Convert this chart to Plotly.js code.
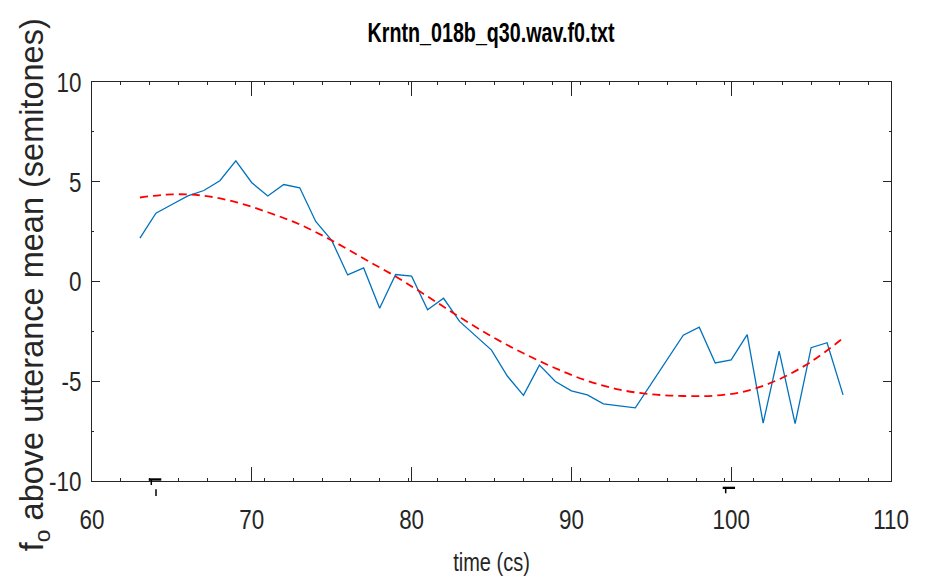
<!DOCTYPE html>
<html>
<head>
<meta charset="utf-8">
<script src="https://cdn.plot.ly/plotly-3.0.1.min.js"></script>
<style>html,body{margin:0;padding:0;background:#fff;}#chart{width:930px;height:580px;}</style>
</head>
<body>
<div id="chart"></div>
<script>
// measured f0 contour (time in cs, semitones above utterance mean)
const f0Time = [63,64,65,66,67,68,69,70,71,72,73,74,75,76,77,78,79,80,81,82,83,84,85,86,87,88,89,90,91,92,93,94,97,98,99,100,101,102,103,104,105,106,107];
const f0Value = [2.17,3.42,3.86,4.29,4.56,5.05,6.05,4.95,4.29,4.86,4.70,3.01,2.06,0.33,0.68,-1.34,0.35,0.27,-1.42,-0.84,-2.00,-2.71,-3.44,-4.75,-5.71,-4.19,-5.01,-5.48,-5.68,-6.13,-6.23,-6.33,-2.69,-2.29,-4.08,-3.93,-2.66,-7.10,-3.49,-7.12,-3.32,-3.07,-5.68];
// smooth fitted curve
const fitTime = [63,65,67,69,71,73,75,77,79,81,83,85,87,89,91,93,95,97,99,101,103,105,107];
const fitValue = [4.21,4.37,4.30,3.98,3.47,2.86,2.06,1.15,0.25,-0.75,-1.78,-2.75,-3.60,-4.35,-4.98,-5.42,-5.65,-5.74,-5.72,-5.48,-4.90,-4.02,-2.84];

const xTicks = [60,70,80,90,100,110];
const yTicks = [-10,-5,0,5,10];
const titleText = 'Krntn_018b_q30.wav.f0.txt';
const xTitle = 'time (cs)';
const yTitle = 'f<sub>o</sub> above utterance mean (semitones)';

const axisColor = '#262626';
const sans = '"Liberation Sans", Arial, Helvetica, sans-serif';

const traces = [
  {x: f0Time, y: f0Value, type: 'scatter', mode: 'lines', line: {color: '#0072BD', width: 1.3}, hoverinfo: 'skip'},
  {x: fitTime, y: fitValue, type: 'scatter', mode: 'lines', line: {color: '#FF0000', width: 1.8, dash: '8px,5px', shape: 'spline'}, hoverinfo: 'skip'}
];

function rectPaper(x0, x1, y0, y1) {
  return {type: 'rect', xref: 'paper', yref: 'paper', x0: x0, x1: x1, y0: y0, y1: y1, fillcolor: '#000', line: {width: 0}};
}
function vlinePaper(x, y0, y1) {
  return {type: 'line', xref: 'paper', yref: 'paper', x0: x, x1: x, y0: y0, y1: y1, line: {color: '#000', width: 1.5}};
}

const layout = {
  width: 930, height: 580,
  margin: {l: 92, r: 39, t: 82, b: 99},
  paper_bgcolor: '#fff', plot_bgcolor: '#fff',
  showlegend: false,
  title: {text: titleText, font: {family: sans, size: 28, color: '#000', weight: 'bold'}, x: 0.528, xanchor: 'center', y: 0.945, yanchor: 'middle', xref: 'container', yref: 'container'},
  xaxis: {
    range: [60, 110], tickvals: xTicks, ticktext: xTicks.map(String),
    showgrid: false, zeroline: false, showline: true, linecolor: axisColor, linewidth: 1,
    mirror: 'ticks', ticks: 'inside', ticklen: 14, tickwidth: 1, tickcolor: axisColor,
    minor: {tick0: 60, dtick: 1.8, ticks: 'inside', ticklen: 3, tickwidth: 1, tickcolor: axisColor, showgrid: false},
    tickfont: {family: sans, size: 28, color: '#262626'},
    ticklabelstandoff: 13,
    title: {text: xTitle, font: {family: sans, size: 25, color: '#262626'}, standoff: 19},
    automargin: false, fixedrange: true
  },
  yaxis: {
    range: [-10, 10], tickvals: yTicks, ticktext: yTicks.map(String),
    showgrid: false, zeroline: false, showline: true, linecolor: axisColor, linewidth: 1,
    mirror: 'ticks', ticks: 'inside', ticklen: 8, tickwidth: 1, tickcolor: axisColor,
    minor: {dtick: 2.5, ticks: 'inside', ticklen: 2, tickwidth: 1, tickcolor: axisColor, showgrid: false},
    tickfont: {family: sans, size: 28, color: '#262626'},
    ticklabelstandoff: 4,
    automargin: false, fixedrange: true
  },
  annotations: [
    {text: yTitle, xref: 'paper', yref: 'paper', x: -0.0725, y: 0.491, xanchor: 'center', yanchor: 'middle',
     textangle: -90, showarrow: false, font: {family: sans, size: 32.5, color: '#262626'}}
  ],
  shapes: [
    rectPaper(0.0710, 0.0867, 0.0008, 0.0068),
    vlinePaper(0.0742, 0.005, -0.010),
    vlinePaper(0.0801, -0.0208, -0.0376),
    rectPaper(0.7894, 0.8048, -0.0143, -0.0200),
    vlinePaper(0.7931, -0.020, -0.0308)
  ]
};

function condense(gd) {
  // horizontal texts in the reference are drawn in a narrow (condensed) face
  const sel = gd.querySelectorAll('.xtick text, .ytick text, .gtitle, .xtitle');
  sel.forEach(function (t) {
    const len = t.getComputedTextLength();
    if (len > 0) {
      const target = t.classList.contains('gtitle') ? 247 : len * 0.8;
      t.setAttribute('textLength', target.toFixed(2));
      t.setAttribute('lengthAdjust', 'spacingAndGlyphs');
    }
  });
}

Plotly.newPlot('chart', traces, layout, {staticPlot: true, displayModeBar: false}).then(condense);
</script>
</body>
</html>
